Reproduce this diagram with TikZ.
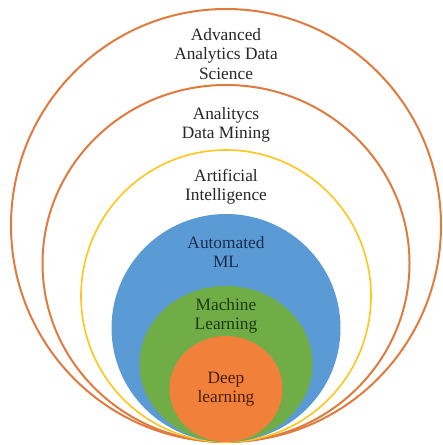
\documentclass[tikz,border=0pt]{standalone}
\usepackage{fontspec}
\setmainfont{Liberation Serif}
\usetikzlibrary{positioning}

\definecolor{ringorange}{HTML}{E07B3F}
\definecolor{ringyellow}{HTML}{FFC519}
\definecolor{fillblue}{HTML}{5B9BD5}
\definecolor{fillgreen}{HTML}{70AD47}
\definecolor{fillorange}{HTML}{F0803A}
\definecolor{textnavy}{HTML}{1C2B4A}
\definecolor{textgreen}{HTML}{1D3A14}
\definecolor{textbrown}{HTML}{4A1F08}

\tikzset{
  ring/.style={line width=1.5pt},
  label/.style={align=center, font=\fontsize{13}{14.4}\selectfont, inner sep=0pt, text=black!85}
}

\begin{document}
\begin{tikzpicture}[x=0.75pt, y=0.75pt]
\useasboundingbox (0,0) rectangle (442,445);

% All shapes touch the same point at the bottom
\pgfmathsetmacro{\bx}{226}
\pgfmathsetmacro{\by}{3}

% Outline rings (x radius / y radius / colour / width)
\foreach \rx/\ry/\col/\lw in {
215/216.5/ringorange/1.5pt,
183.5/178.5/ringorange/1.5pt,
145/146/ringyellow/1.2pt}
{
\draw[ring, draw=\col, line width=\lw] (\bx,\by+\ry) ellipse ({\rx} and {\ry});
}

% Filled discs, largest first
\foreach \rx/\ry/\col in {
114.5/114/fillblue,
86.5/78/fillgreen,
56.5/53/fillorange}
{
\fill[fill=\col] (\bx,\by+\ry) ellipse ({\rx} and {\ry});
}

% Labels
\node[label] (ads) at (226,391) {Advanced\\Analytics Data\\Science};
\node[label] (adm) at (226,320) {Analitycs\\Data Mining};
\node[label] (ai)  at (226,258) {Artificial\\Intelligence};
\node[label, text=textnavy]  (aml) at (226,193) {Automated\\ML};
\node[label, text=textgreen] (ml)  at (226,129) {Machine\\Learning};
\node[label, text=textbrown] (dl)  at (226,56)  {Deep\\learning};

\end{tikzpicture}
\end{document}
